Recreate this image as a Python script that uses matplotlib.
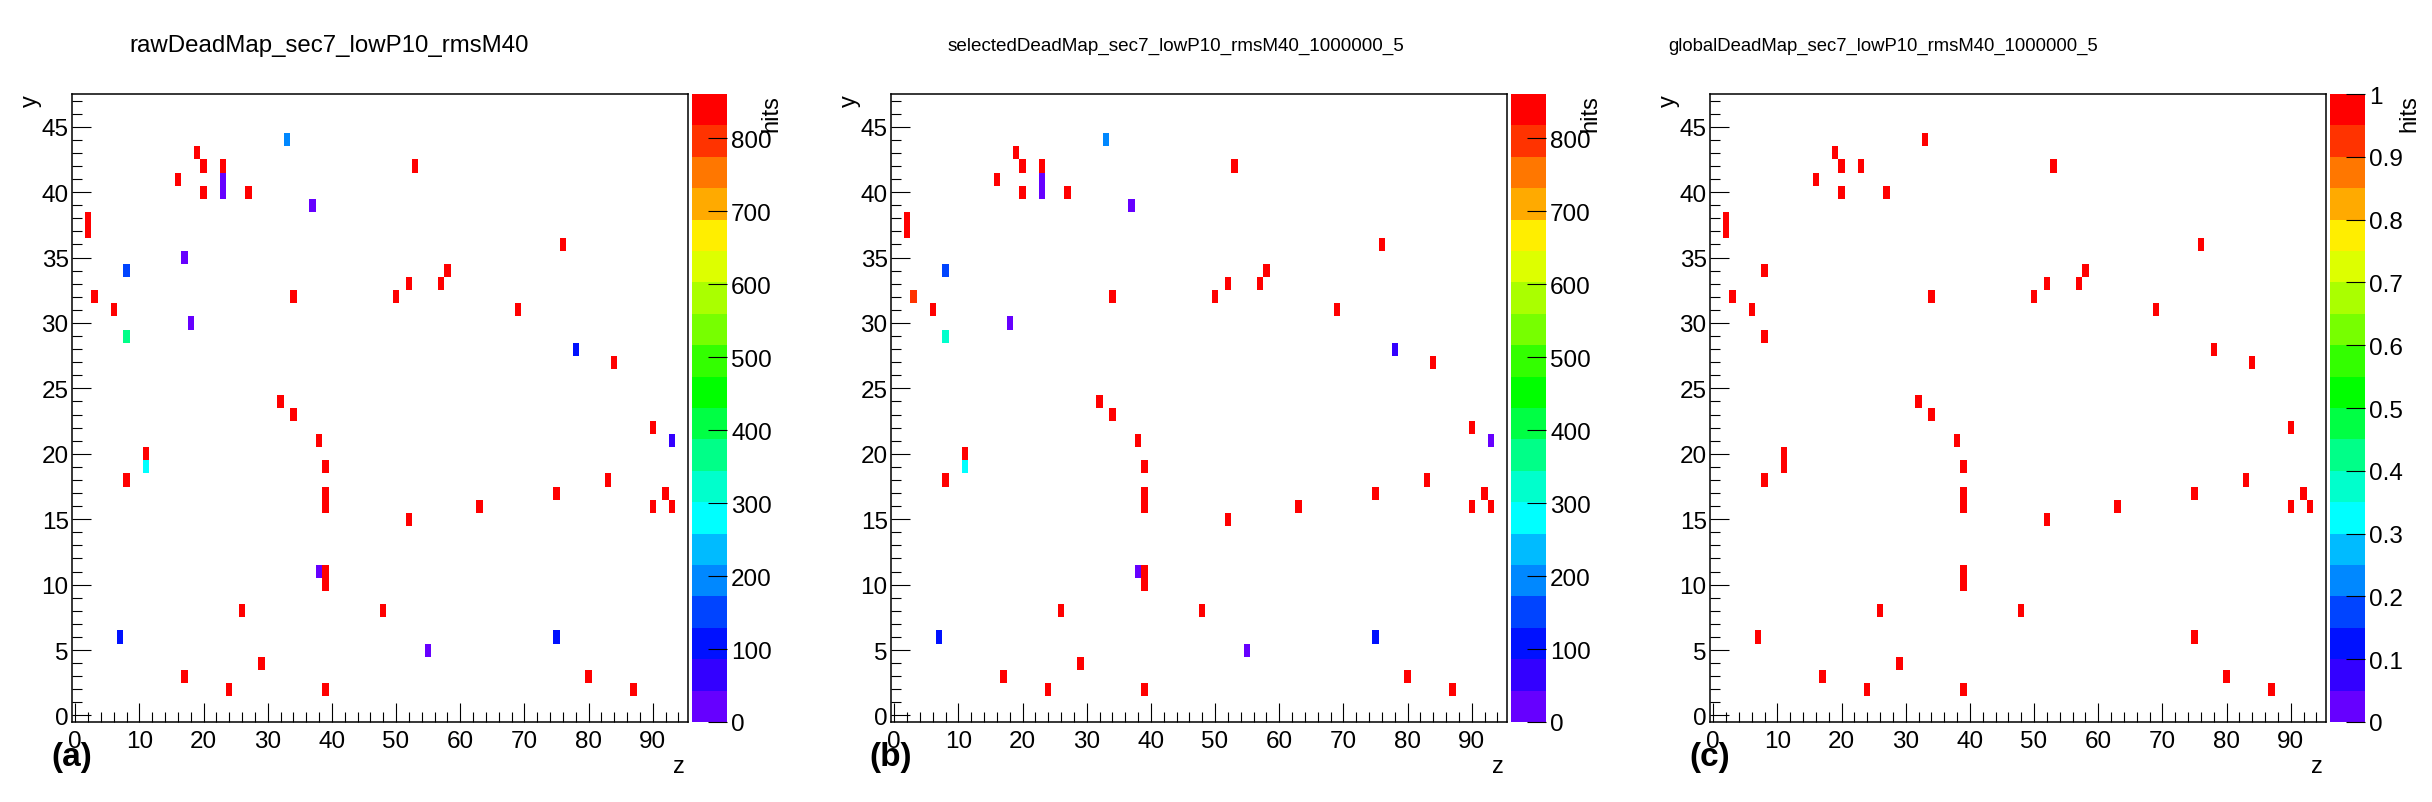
import numpy as np
import matplotlib
matplotlib.use('Agg')
import matplotlib.pyplot as plt
from matplotlib.colors import ListedColormap, Normalize
from matplotlib.ticker import MultipleLocator

plt.rcParams['font.family'] = ['Liberation Sans', 'DejaVu Sans']

# detector grid: 96 bins in z, 48 bins in y
NZ, NY = 96, 48

# raw dead map (hits per cell)
raw_z = [33, 19, 20, 23, 53, 16, 23, 23, 20, 27, 37, 2, 2, 76, 17, 8, 58, 52, 57, 3,
         34, 50, 6, 69, 18, 8, 78, 84, 32, 34, 90, 93, 38, 11, 11, 39, 8, 83, 39, 39,
         75, 92, 90, 93, 63, 52, 38, 39, 39, 26, 48, 7, 75, 55, 29, 17, 80, 24, 39, 87]
raw_y = [44, 43, 42, 42, 42, 41, 41, 40, 40, 40, 39, 38, 37, 36, 35, 34, 34, 33, 33, 32,
         32, 32, 31, 31, 30, 29, 28, 27, 24, 23, 22, 21, 21, 20, 19, 19, 18, 18, 17, 16,
         17, 17, 16, 16, 16, 15, 11, 11, 10, 8, 8, 6, 6, 5, 4, 3, 3, 2, 2, 2]
raw_hits = [195, 850, 850, 845, 850, 850, 20, 22, 850, 850, 25, 850, 855, 850, 25, 150, 850, 850, 850, 845,
            850, 861, 850, 850, 24, 375, 108, 850, 850, 850, 850, 65, 850, 850, 280, 850, 850, 850, 850, 850,
            850, 850, 850, 850, 850, 850, 22, 850, 850, 850, 850, 105, 105, 25, 850, 850, 850, 850, 850, 850]

# selected dead map
sel_z = [33, 19, 20, 23, 53, 16, 23, 23, 20, 27, 37, 2, 2, 76, 8, 58, 52, 57, 3,
         34, 50, 6, 69, 18, 8, 78, 84, 32, 34, 90, 93, 38, 11, 11, 39, 8, 83, 39, 39,
         75, 92, 90, 93, 63, 52, 38, 39, 39, 26, 48, 7, 75, 55, 29, 17, 80, 24, 39, 87]
sel_y = [44, 43, 42, 42, 42, 41, 41, 40, 40, 40, 39, 38, 37, 36, 34, 34, 33, 33, 32,
         32, 32, 31, 31, 30, 29, 28, 27, 24, 23, 22, 21, 21, 20, 19, 19, 18, 18, 17, 16,
         17, 17, 16, 16, 16, 15, 11, 11, 10, 8, 8, 6, 6, 5, 4, 3, 3, 2, 2, 2]
sel_hits = [195, 850, 850, 845, 850, 850, 20, 22, 850, 850, 25, 850, 855, 850, 150, 850, 850, 850, 800,
            850, 861, 850, 850, 24, 330, 65, 850, 850, 850, 850, 20, 850, 850, 280, 850, 850, 850, 850, 850,
            850, 850, 850, 850, 850, 850, 22, 850, 850, 850, 850, 105, 105, 25, 850, 850, 850, 850, 850, 850]

# global dead map (flag = 1)
glob_z = [33, 19, 20, 23, 53, 16, 20, 27, 2, 2, 76, 8, 58, 52, 57, 3, 34, 50, 6, 69,
          8, 78, 84, 32, 34, 90, 38, 11, 11, 39, 8, 83, 39, 39, 75, 92, 90, 93, 63, 52,
          39, 39, 26, 48, 7, 75, 29, 17, 80, 24, 39, 87]
glob_y = [44, 43, 42, 42, 42, 41, 40, 40, 38, 37, 36, 34, 34, 33, 33, 32, 32, 32, 31, 31,
          29, 28, 27, 24, 23, 22, 21, 20, 19, 19, 18, 18, 17, 16, 17, 17, 16, 16, 16, 15,
          11, 10, 8, 8, 6, 6, 4, 3, 3, 2, 2, 2]
glob_flag = [1] * len(glob_z)

titles = ['rawDeadMap_sec7_lowP10_rmsM40',
          'selectedDeadMap_sec7_lowP10_rmsM40_1000000_5',
          'globalDeadMap_sec7_lowP10_rmsM40_1000000_5']
panel_tags = ['(a)', '(b)', '(c)']

# ROOT-like 20 level rainbow palette
palette = ['#6600ff', '#3300ff', '#0011ff', '#0044ff', '#0088ff', '#00bbff', '#00ffff',
           '#00ffcc', '#00ff88', '#00ff44', '#00ff00', '#33ff00', '#77ff00', '#aaff00',
           '#ddff00', '#ffee00', '#ffaa00', '#ff7700', '#ff3300', '#ff0000']
cmap = ListedColormap(palette)

W, H = 2432, 803


def fx(px):
    return px / W


def fy(py):
    return 1 - py / H


def fill(zs, ys, vals):
    h = np.zeros((NY, NZ))
    for z, y, v in zip(zs, ys, vals):
        h[y, z] = v
    return np.ma.masked_equal(h, 0)


fig = plt.figure(figsize=(W / 100, H / 100), dpi=100, facecolor='white')

maps = [fill(raw_z, raw_y, raw_hits), fill(sel_z, sel_y, sel_hits), fill(glob_z, glob_y, glob_flag)]
zmax = [861, 861, 1]
cticks = [np.arange(0, 900, 100), np.arange(0, 900, 100), np.arange(0, 1.05, 0.1)]
title_x = [329, 1176, 1883]
title_size = [17.3, 13.6, 13.3]

z_edges = np.arange(NZ + 1) - 0.5
y_edges = np.arange(NY + 1) - 0.5

frame_w = 616
top, bottom = 95, 723

for i in range(3):
    left = 72 + 819 * i
    ax = fig.add_axes([fx(left), fy(bottom), frame_w / W, (bottom - top) / H])
    cax = fig.add_axes([fx(left + frame_w + 4), fy(bottom), 35 / W, (bottom - top) / H])

    mesh = ax.pcolormesh(z_edges, y_edges, maps[i], cmap=cmap, norm=Normalize(0, zmax[i]))
    ax.set_xlim(-0.5, 95.5)
    ax.set_ylim(-0.5, 47.5)
    ax.xaxis.set_major_locator(MultipleLocator(10))
    ax.xaxis.set_minor_locator(MultipleLocator(2))
    ax.yaxis.set_major_locator(MultipleLocator(5))
    ax.yaxis.set_minor_locator(MultipleLocator(1))
    ax.tick_params(which='both', direction='in', top=False, right=False, width=0.8, labelsize=17.5)
    ax.tick_params(axis='x', which='major', length=13.5, pad=6)
    ax.tick_params(axis='x', which='minor', length=7.5)
    ax.tick_params(axis='y', which='major', length=13.5, pad=2.4)
    ax.tick_params(axis='y', which='minor', length=7)
    for s in ax.spines.values():
        s.set_linewidth(1.1)

    fig.text(fx(left - 41), fy(top), 'y', rotation=90, ha='center', va='top', fontsize=17)
    fig.text(fx(left + frame_w - 3), fy(767), 'z', ha='right', va='center', fontsize=17)
    fig.text(fx(left), fy(758), panel_tags[i], ha='center', va='center', fontsize=24, fontweight='bold')
    fig.text(fx(title_x[i]), fy(46), titles[i], ha='center', va='center', fontsize=title_size[i])

    cb = fig.colorbar(mesh, cax=cax)
    cb.outline.set_visible(False)
    cb.set_ticks(cticks[i])
    if i == 2:
        cb.set_ticklabels(['0', '0.1', '0.2', '0.3', '0.4', '0.5', '0.6', '0.7', '0.8', '0.9', '1'])
    cax.minorticks_off()
    cax.tick_params(direction='in', length=13.5, width=0.8, labelsize=17.5, pad=3)
    fig.text(fx(left + frame_w + 4 + 35 + 44), fy(top), 'hits', rotation=90, ha='center', va='top', fontsize=17)

fig.savefig('out.png', dpi=100)
